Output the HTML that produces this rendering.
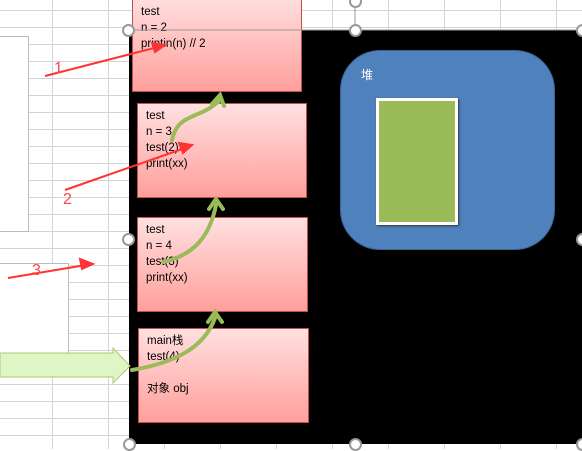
<!DOCTYPE html>
<html><head><meta charset="utf-8"><style>
body{margin:0;width:582px;height:449px;overflow:hidden;background:#fff;position:relative;font-family:"Liberation Sans","Noto Sans CJK SC",sans-serif}
.grid{position:absolute;inset:0;background-image:linear-gradient(#d4d4d4 1px,transparent 1px),linear-gradient(90deg,#d4d4d4 1px,transparent 1px);background-size:56px 17px;background-position:52px 10px}
.box{position:absolute;border:1px solid #c0504d;background:linear-gradient(#ffe0e0,#ff9f9c);font-size:11.5px;line-height:16px;color:#000;padding:4px 8px;box-sizing:border-box}
.h{position:absolute;width:9px;height:9px;border:2px solid #999;border-radius:50%;background:#fff;margin:-6px 0 0 -6px}
</style></head><body>
<div class="grid"></div>
<div style="position:absolute;left:-1px;top:36px;width:28px;height:194px;background:#fff;border:1px solid #bbb"></div>
<div style="position:absolute;left:-1px;top:263px;width:68px;height:92px;background:#fff;border:1px solid #bbb"></div>
<div style="position:absolute;left:129px;top:30px;width:453px;height:414px;background:#000"></div>
<div style="position:absolute;left:340px;top:50px;width:215px;height:200px;background:#4f81bd;border:1px solid #3a6496;border-radius:40px;box-sizing:border-box"></div>
<div style="position:absolute;left:361px;top:66px;color:#fff;font-size:12px">堆</div>
<div style="position:absolute;left:376px;top:98px;width:82px;height:127px;background:#9bbb59;border:3px solid #fff;box-sizing:border-box;box-shadow:1px 1px 2px #333"></div>
<div class="box" style="left:132px;top:-5px;width:170px;height:97px;padding-top:8px">test<br>n = 2<br>printin(n) // 2</div>
<div class="box" style="left:137px;top:103px;width:170px;height:95px">test<br>n = 3<br>test(2)<br>print(xx)</div>
<div class="box" style="left:137px;top:217px;width:171px;height:95px">test<br>n = 4<br>test(3)<br>print(xx)</div>
<div class="box" style="left:138px;top:328px;width:171px;height:95px">main栈<br>test(4)<br><br>对象 obj</div>
<svg width="582" height="449" style="position:absolute;left:0;top:0">
<line x1="128" y1="30" x2="582" y2="30" stroke="#999" stroke-width="1"/>
<line x1="355" y1="0" x2="355" y2="30" stroke="#999"/>
<polygon points="0,353 113,353 113,348 130,366 113,383 113,377 0,377" fill="#e0f5c6" stroke="#a4cc6c"/>
<g fill="none" stroke="#9bbb59" stroke-width="4" stroke-linecap="round">
<path d="M132,370 C180,362 205,345 215,318"/><path d="M208,322 L215,312 L222,322"/>
<path d="M163,262 C195,255 210,235 216,205"/><path d="M209,209 L216,199 L223,209"/>
<path d="M172,140 C178,112 200,120 220,100"/><path d="M212,104 L220,95 L224,106"/>
</g>
<g stroke="#ff3333" stroke-width="2" fill="#ff3333">
<line x1="45" y1="76" x2="158" y2="47"/><polygon points="165,45 152,43 155,52"/>
<line x1="65" y1="190" x2="185" y2="148"/><polygon points="192,145 179,143 183,153"/>
<line x1="8" y1="278" x2="86" y2="265"/><polygon points="93,264 80,259 82,269"/>
</g>
<g fill="#ff4444" font-size="16" font-family="Liberation Sans">
<text x="54" y="73">1</text><text x="63" y="204">2</text><text x="32" y="275">3</text></g>
</svg>
<div class="h" style="left:128px;top:30px"></div><div class="h" style="left:355px;top:30px"></div><div class="h" style="left:355px;top:1px"></div>
<div class="h" style="left:582px;top:30px"></div><div class="h" style="left:128px;top:239px"></div><div class="h" style="left:582px;top:239px"></div>
<div class="h" style="left:129px;top:444px"></div><div class="h" style="left:355px;top:444px"></div><div class="h" style="left:582px;top:444px"></div>
</body></html>
